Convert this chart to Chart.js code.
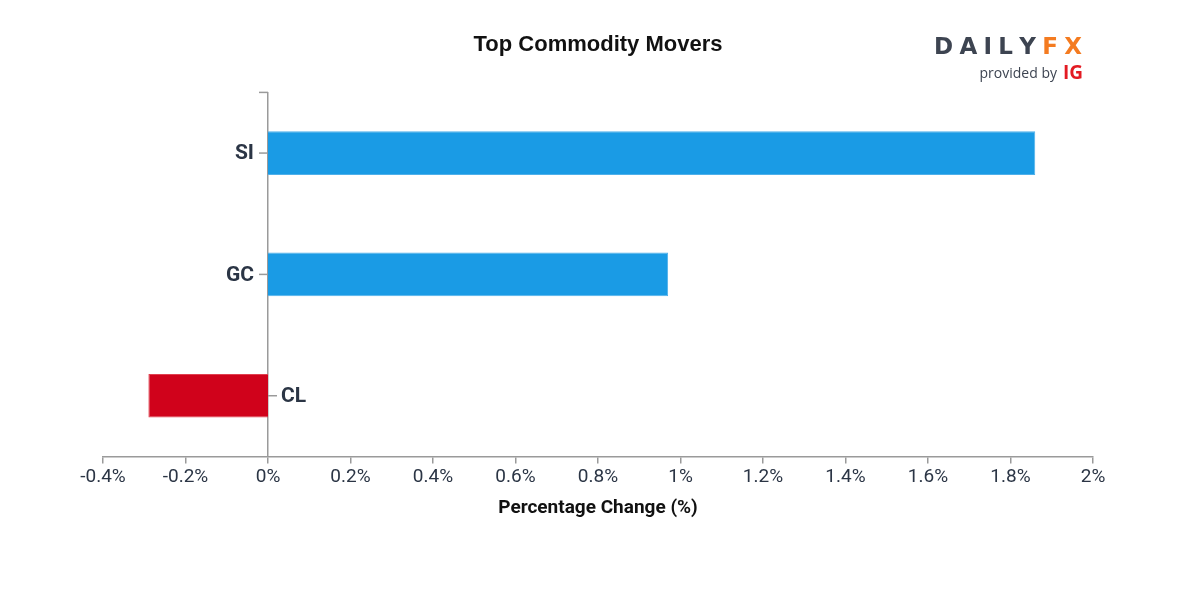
<!DOCTYPE html>
<html>
<head>
<meta charset="utf-8">
<script src="https://cdn.jsdelivr.net/npm/chart.js@4"></script>
<style>
  html, body { margin: 0; padding: 0; background: #fff; }
  #wrap { width: 1200px; height: 600px; position: relative; }
</style>
</head>
<body>
<div id="wrap"><canvas id="movers"></canvas></div>
<script>
// données
const categories = ["SI", "GC", "CL"];
const changes = [1.86, 0.97, -0.29];
const xMin = -0.4;
const xMax = 2;
const xStep = 0.2;

const blue = "#1a9be5";
const red = "#d0021b";
const textColor = "#2b3545";
const axisColor = "#9a9a9a";

// étiquettes des catégories + logo
const moversPlugin = {
    id: "moversPlugin",
    afterDraw(chart) {
        const ctx = chart.ctx;
        const xs = chart.scales.x;
        const ys = chart.scales.y;
        const x0 = xs.getPixelForValue(0);

        ctx.save();
        ctx.strokeStyle = axisColor;
        ctx.lineWidth = 1.5;
        // petit tick en haut de l'axe
        ctx.beginPath();
        ctx.moveTo(x0 - 9, chart.chartArea.top);
        ctx.lineTo(x0, chart.chartArea.top);
        ctx.stroke();

        ctx.font = "bold 21px Roboto";
        ctx.fillStyle = textColor;
        ctx.textBaseline = "middle";
        categories.forEach((cat, i) => {
            const y = ys.getPixelForValue(i);
            const neg = changes[i] < 0;
            ctx.beginPath();
            ctx.moveTo(x0, y);
            ctx.lineTo(neg ? x0 + 9 : x0 - 9, y);
            ctx.stroke();
            ctx.textAlign = neg ? "left" : "right";
            ctx.fillText(cat, neg ? x0 + 13 : x0 - 14, y + 1);
        });

        // logo DailyFX
        ctx.textAlign = "left";
        ctx.textBaseline = "alphabetic";
        ctx.font = "bold 23px 'DejaVu Sans'";
        const parts = [["DAILY", "#3d4451"], ["FX", "#f47b20"]];
        let raw = 0;
        for (const ch of "DAILYFX") raw += ctx.measureText(ch).width;
        const gap = (148 - raw) / 6;
        let lx = 934;
        parts.forEach(([txt, col]) => {
            ctx.fillStyle = col;
            for (const ch of txt) {
                ctx.fillText(ch, lx, 54);
                lx += ctx.measureText(ch).width + gap;
            }
        });
        ctx.font = "14px 'Open Sans'";
        ctx.fillStyle = "#3d4451";
        ctx.textAlign = "right";
        ctx.fillText("provided by", 1057, 78);
        ctx.font = "bold 19px 'Open Sans'";
        ctx.fillStyle = "#e31b23";
        ctx.textAlign = "left";
        ctx.fillText("IG", 1063, 79);
        ctx.restore();
    }
};

new Chart(document.getElementById("movers"), {
    type: "bar",
    data: {
        labels: categories,
        datasets: [{
            data: changes,
            backgroundColor: changes.map(v => v < 0 ? red : blue),
            borderColor: changes.map(v => v < 0 ? "#e0404f" : "#4fb0ea"),
            borderWidth: 1,
            categoryPercentage: 1,
            barPercentage: 0.36
        }]
    },
    options: {
        indexAxis: "y",
        responsive: true,
        maintainAspectRatio: false,
        animation: false,
        layout: { padding: { left: 103, right: 107, top: 0, bottom: 80 } },
        plugins: {
            legend: { display: false },
            tooltip: { enabled: false },
            title: {
                display: true,
                text: "Top Commodity Movers",
                color: "#111",
                font: { family: "'Liberation Sans', Arial", size: 22, weight: "bold" },
                padding: { top: 32, bottom: 34 }
            }
        },
        scales: {
            x: {
                min: xMin,
                max: xMax,
                grid: { drawOnChartArea: false, tickLength: 7, color: axisColor, lineWidth: 1.5 },
                border: { color: axisColor, width: 1.5 },
                ticks: {
                    stepSize: xStep,
                    padding: 2,
                    color: textColor,
                    font: { family: "Roboto", size: 19 },
                    callback: v => (Math.round(v * 10) / 10) + "%"
                },
                title: {
                    display: true,
                    text: "Percentage Change (%)",
                    color: "#111",
                    font: { family: "Roboto", size: 19, weight: "bold" },
                    padding: { top: 7, bottom: 0 }
                }
            },
            y: {
                position: { x: 0 },
                offset: true,
                grid: { display: true, drawOnChartArea: false, drawTicks: false },
                border: { color: axisColor, width: 1.5 },
                ticks: { display: false }
            }
        }
    },
    plugins: [moversPlugin]
});
</script>
</body>
</html>
